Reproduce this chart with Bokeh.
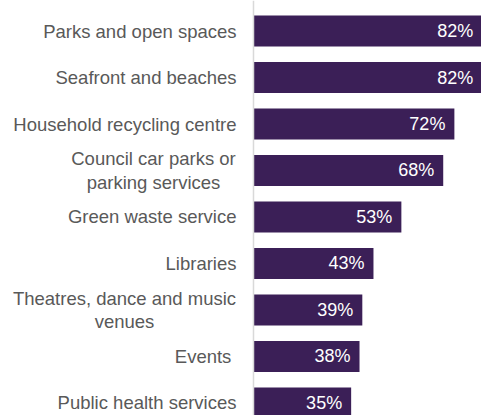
from bokeh.plotting import figure
from bokeh.models import ColumnDataSource, Range1d, Span
from bokeh.core.properties import value
from bokeh.embed import file_html
from bokeh.resources import INLINE

categories = [
    "Parks and open spaces",
    "Seafront and beaches",
    "Household recycling centre",
    "Council car parks or\nparking services",
    "Green waste service",
    "Libraries",
    "Theatres, dance and music\nvenues",
    "Events ",
    "Public health services",
]
values = [82, 82, 72, 68, 53, 43, 39, 38, 35]
value_labels = ["82%", "82%", "72%", "68%", "53%", "43%", "39%", "38%", "35%"]

BAR_COLOR = "#3b1f57"
TEXT_COLOR = "#595959"
FONT = "Liberation Sans"

W, H = 481, 415
ypos = list(range(len(categories)))

p = figure(width=W, height=H, output_backend="svg", toolbar_location=None,
           x_range=Range1d(-90.68, 81.72), y_range=Range1d(8.269, -0.656),
           min_border=0, min_border_left=0, min_border_right=0,
           min_border_top=0, min_border_bottom=0)
p.xaxis.visible = False
p.yaxis.visible = False
p.grid.visible = False
p.outline_line_color = None
p.background_fill_color = "white"
p.border_fill_color = "white"

src = ColumnDataSource(dict(y=ypos, v=values, lab=value_labels))
p.hbar(y="y", left=0, right="v", height=0.67, source=src,
       fill_color=BAR_COLOR, line_color=None)

p.add_layout(Span(location=0, dimension="height", line_color="#d9d9d9", line_width=1.5))

p.text(x="v", y="y", text="lab", source=src, text_align="right",
       text_baseline="middle", x_offset=-9, text_color="white",
       text_font=value(FONT), text_font_size="18px")

single = [(c, y) for c, y in zip(categories, ypos) if "\n" not in c]
multi = [(c, y) for c, y in zip(categories, ypos) if "\n" in c]
first_line_width = {"Council car parks or\nparking services": 166,
                    "Theatres, dance and music\nvenues": 224}

s1 = ColumnDataSource(dict(x=[0] * len(single), y=[y for _, y in single],
                           t=[c for c, _ in single]))
p.text(x="x", y="y", text="t", source=s1, text_align="right",
       text_baseline="middle", x_offset=-17, text_color=TEXT_COLOR,
       text_font=value(FONT), text_font_size="18.5px")

s2 = ColumnDataSource(dict(x=[0] * len(multi), y=[y for _, y in multi],
                           t=[c for c, _ in multi],
                           xo=[-17 - first_line_width[c] / 2 for c, _ in multi]))
p.text(x="x", y="y", text="t", source=s2, text_align="center",
       text_baseline="middle", x_offset="xo", text_color=TEXT_COLOR,
       text_font=value(FONT), text_font_size="18.5px", text_line_height=1.1)

open("out.html", "w").write(file_html(p, INLINE))
